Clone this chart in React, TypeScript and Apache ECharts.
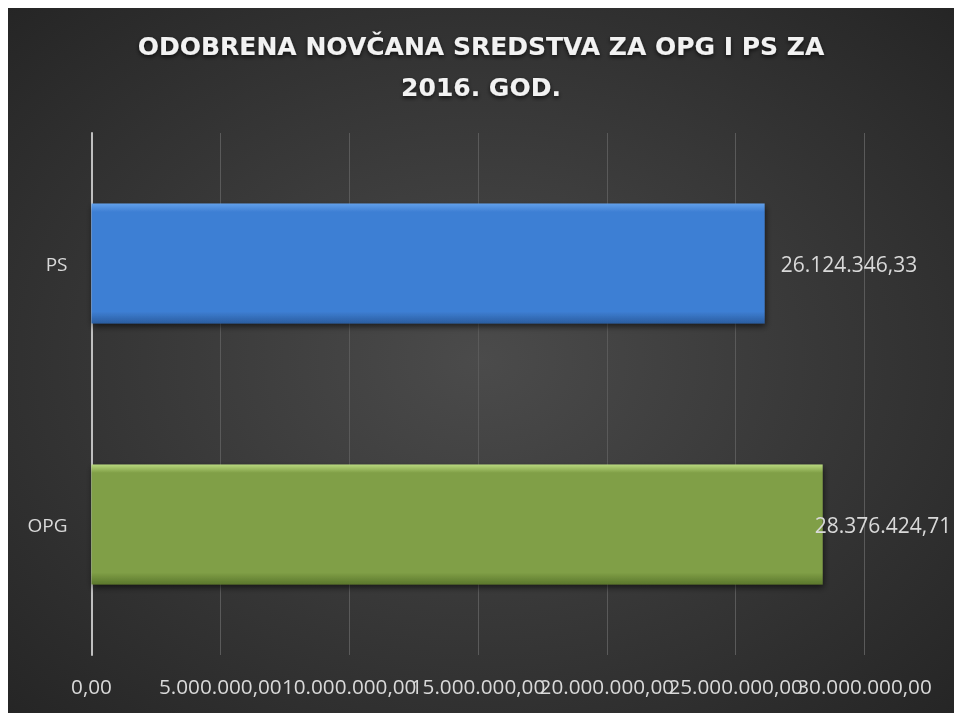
import React, { useEffect, useRef } from "react";
import * as echarts from "echarts";

const categories = ["OPG", "PS"];
const values = [28376424.71, 26124346.33];
const titleText = "ODOBRENA NOVČANA SREDSTVA ZA OPG I PS ZA\n2016. GOD.";
const axisMin = 0;
const axisMax = 30000000;
const axisInterval = 5000000;

function fmt(v: number): string {
  const [intPart, dec] = Math.abs(v).toFixed(2).split(".");
  const withDots = intPart.replace(/\B(?=(\d{3})+(?!\d))/g, ".");
  return (v < 0 ? "-" : "") + withDots + "," + dec;
}

const barStyles = [
  {
    main: "#809f47",
    top: "#b9d97f",
    bottom: "#5b772c",
  },
  {
    main: "#3e7fd4",
    top: "#62a0ea",
    bottom: "#2b5d9f",
  },
];

const tickLabelStyle = {
  color: "#d9d9d9",
  fontFamily: "Open Sans",
  fontSize: 20.7,
  margin: 20,
};

export default function App() {
  const ref = useRef<HTMLDivElement>(null);
  useEffect(() => {
    if (!ref.current) return;
    const chart = echarts.init(ref.current, undefined, { renderer: "svg" });
    const data = values.map((v, i) => {
      const s = barStyles[i];
      return {
        value: v,
        itemStyle: {
          color: new echarts.graphic.LinearGradient(0, 0, 0, 1, [
            { offset: 0, color: s.top },
            { offset: 0.07, color: s.main },
            { offset: 0.9, color: s.main },
            { offset: 1, color: s.bottom },
          ]),
        },
        label: i === 0 ? { distance: -8 } : { distance: 16 },
      };
    });
    chart.setOption({
      animation: false,
      backgroundColor: {
        type: "radial",
        x: 0.5,
        y: 0.5,
        r: 0.75,
        colorStops: [
          { offset: 0, color: "#4b4b4b" },
          { offset: 1, color: "#232323" },
        ],
      },
      title: {
        text: titleText,
        left: "center",
        top: 18,
        padding: 0,
        textStyle: {
          color: "#f2f2f2",
          fontFamily: "DejaVu Sans",
          fontWeight: "bold",
          fontSize: 25,
          lineHeight: 41,
          textShadowColor: "rgba(0,0,0,0.7)",
          textShadowBlur: 4,
          textShadowOffsetY: 2,
        },
      },
      grid: { left: 83.5, right: 89.5, top: 125, bottom: 58, containLabel: false },
      xAxis: [
        {
          type: "value",
          position: "bottom",
          min: axisMin,
          max: axisMax,
          interval: axisInterval,
          axisLine: { show: false },
          axisTick: { show: false },
          splitLine: { show: true, lineStyle: { color: "#5a5a5a", width: 1 } },
          axisLabel: {
            ...tickLabelStyle,
            formatter: (v: number) => fmt(v),
            showMaxLabel: false,
            showMinLabel: true,
            hideOverlap: false,
          },
        },
        {
          type: "value",
          position: "bottom",
          min: axisMin,
          max: axisMax,
          interval: axisMax,
          axisLine: { show: false },
          axisTick: { show: false },
          splitLine: { show: false },
          axisLabel: {
            ...tickLabelStyle,
            formatter: (v: number) => (v === axisMax ? fmt(v) : ""),
            showMaxLabel: true,
            showMinLabel: false,
          },
        },
      ],
      yAxis: {
        type: "category",
        data: categories,
        axisLine: { show: true, lineStyle: { color: "#bfbfbf", width: 2 } },
        axisTick: { show: false },
        axisLabel: {
          color: "#d9d9d9",
          fontFamily: "Open Sans",
          fontSize: 19,
          margin: 24,
        },
      },
      series: [
        {
          type: "bar",
          xAxisIndex: 0,
          data,
          barCategoryGap: "54%",
          itemStyle: {
            shadowColor: "rgba(0,0,0,0.6)",
            shadowBlur: 6,
            shadowOffsetY: 3,
            shadowOffsetX: 1,
          },
          label: {
            show: true,
            position: "right",
            color: "#d9d9d9",
            fontFamily: "Open Sans",
            fontSize: 21,
            formatter: (p: any) => fmt(p.value),
          },
        },
      ],
    });
    return () => chart.dispose();
  }, []);
  return (
    <div
      ref={ref}
      style={{ position: "fixed", left: 8, top: 8, width: 946, height: 705 }}
    />
  );
}
